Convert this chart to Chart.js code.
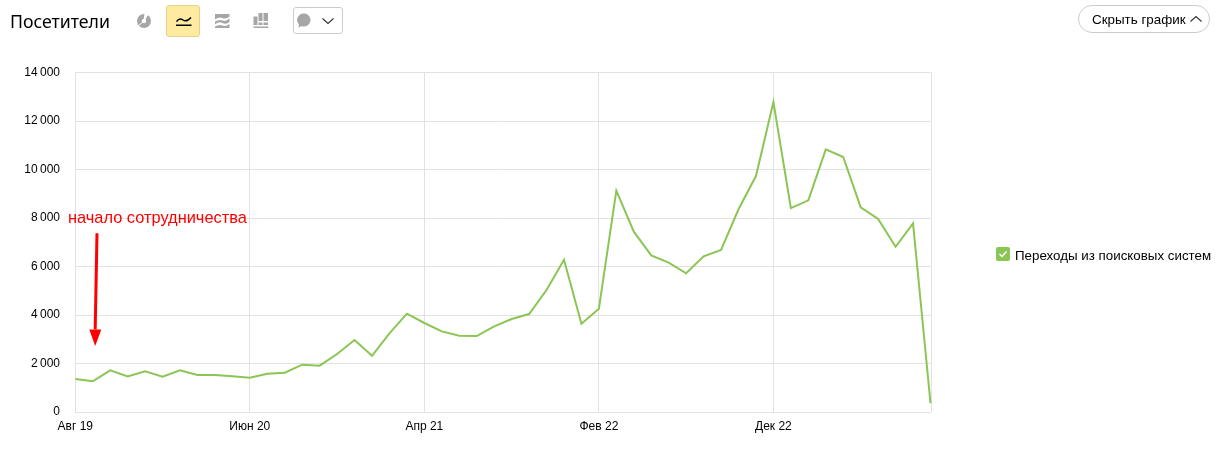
<!DOCTYPE html>
<html lang="ru"><head><meta charset="utf-8">
<script src="https://cdn.jsdelivr.net/npm/chart.js@4/dist/chart.umd.min.js"></script>
<style>
html,body{margin:0;padding:0;background:#fff;width:1222px;height:457px;overflow:hidden}
#wrap{position:relative;width:1222px;height:457px;font-family:"Liberation Sans",Arial,sans-serif;color:#000}
canvas{position:absolute;left:0;top:0}
.abs{position:absolute}
#title{left:10px;top:8px;font:17.7px/26px "Noto Sans",sans-serif;color:#000;white-space:nowrap}
#active{left:166px;top:5px;width:32px;height:30px;background:#ffeba0;border:1px solid #e6d28c;border-radius:3px}
#drop{left:293px;top:7px;width:48px;height:25px;border:1px solid #ccc;border-radius:3px}
#hide{left:1078px;top:5px;width:130px;height:26px;border:1px solid #ccc;border-radius:14px;font-size:13.4px;line-height:27px;white-space:nowrap}
#hide span{position:absolute;left:13px;top:0}
#check{left:996px;top:247px;width:14px;height:14px;background:#8bc554;border-radius:2px}
#legend{left:1015px;top:248px;font-size:13.35px;line-height:15px;white-space:nowrap}
</style></head><body>
<div id="wrap">
<canvas id="c" width="1222" height="457"></canvas>
<div id="title" class="abs">Посетители</div>
<svg class="abs" style="left:137px;top:14px" width="14" height="14" viewBox="0 0 14 14"><circle cx="7" cy="7" r="7" fill="#a6a6a6"/><path d="M7 7L8 0L11 0Z M7 7L1 12" stroke="#fff" stroke-width="1" fill="#fff"/><circle cx="7" cy="7" r="2.200" fill="#fff"/></svg>
<div id="active" class="abs"></div>
<svg class="abs" style="left:175.500px;top:15px" width="16" height="12" viewBox="0 0 16 12"><path d="M0.500 6.500Q3.500 2.500 7 5T15 2.500" fill="none" stroke="#000" stroke-width="1.500"/><rect x="0" y="9.500" width="15.500" height="1.500" fill="#000"/></svg>
<svg class="abs" style="left:215px;top:14px" width="15" height="14" viewBox="0 0 15 14"><path d="M0 0H14.500V2.500Q11 5.500 7.500 4T0 5.500Z M0 7.500Q4 5 7.500 6.500T14.500 4.500V8Q11 11 7.500 9T0 10.500Z M0 12.500Q4 10 7.500 11.500T14.500 10V14H0Z" fill="#a6a6a6"/></svg>
<svg class="abs" style="left:253px;top:13px" width="16" height="15" viewBox="0 0 16 15"><path d="M0.500 3.500H4.500V12H0.500Z M5.500 0H9.500V8H5.500Z M5.500 9.500H9.500V12H5.500Z M10.500 0H15V8H10.500Z M10.500 9.500H15V12H10.500Z M0.500 13.500H15.500V15H0.500Z" fill="#a6a6a6"/></svg>
<div id="drop" class="abs"></div>
<svg class="abs" style="left:297px;top:13px" width="14" height="15" viewBox="0 0 14 15"><path d="M7 0.500A6.500 6.500 0 1 1 4.500 13L1.500 14.800L2 11.500A6.500 6.500 0 0 1 7 0.500Z" fill="#a6a6a6"/></svg>
<svg class="abs" style="left:321.500px;top:17px" width="12" height="8" viewBox="0 0 12 8"><path d="M0.500 1.500L6 6.500L11.500 1.500" fill="none" stroke="#333" stroke-width="1.100"/></svg>
<div id="hide" class="abs"><span>Скрыть график</span></div>
<svg class="abs" style="left:1190px;top:15px" width="12" height="8" viewBox="0 0 12 8"><path d="M0.500 6.500L6 1.500L11.500 6.500" fill="none" stroke="#333" stroke-width="1.100"/></svg>
<div id="check" class="abs"></div>
<svg class="abs" style="left:996px;top:247px" width="14" height="14" viewBox="0 0 14 14"><path d="M3.500 7L6 9.500L10.500 4.500" fill="none" stroke="#fff" stroke-width="1.500"/></svg>
<div id="legend" class="abs">Переходы из поисковых систем</div>
</div>
<script>
const categories = ["Авг 19","Сен 19","Окт 19","Ноя 19","Дек 19","Янв 20","Фев 20","Мар 20","Апр 20","Май 20",
"Июн 20","Июл 20","Авг 20","Сен 20","Окт 20","Ноя 20","Дек 20","Янв 21","Фев 21","Мар 21",
"Апр 21","Май 21","Июн 21","Июл 21","Авг 21","Сен 21","Окт 21","Ноя 21","Дек 21","Янв 22",
"Фев 22","Мар 22","Апр 22","Май 22","Июн 22","Июл 22","Авг 22","Сен 22","Окт 22","Ноя 22",
"Дек 22","Янв 23","Фев 23","Мар 23","Апр 23","Май 23","Июн 23","Июл 23","Авг 23","Сен 23"];
const visits = [1360,1265,1720,1470,1675,1455,1720,1525,1525,1470,
1415,1580,1620,1950,1910,2390,2970,2320,3245,4055,
3670,3325,3145,3130,3530,3835,4040,5030,6280,3640,
4260,9125,7435,6460,6160,5720,6420,6680,8360,9730,
12780,8410,8730,10830,10515,8440,7960,6815,7780,360];
const shownLabels = ["Авг 19","Июн 20","Апр 21","Фев 22","Дек 22"];
const seriesName = "Переходы из поисковых систем";
const noteText = "начало сотрудничества";
const GRID = "#e2e2e2";

const annotation = {
  id:"annotation",
  beforeDatasetsDraw(ch){
    const {ctx,chartArea:a} = ch;
    ctx.save(); ctx.strokeStyle = GRID; ctx.lineWidth = 1;
    ctx.beginPath(); ctx.moveTo(931.5,a.top-0.5); ctx.lineTo(931.5,a.bottom+0.5); ctx.stroke();
    ctx.restore();
  },
  afterDatasetsDraw(ch){
    const {ctx,scales:{x,y}} = ch;
    const ax = x.getPixelForValue(1.146), top = y.getPixelForValue(7375), tip = y.getPixelForValue(2719), neck = y.getPixelForValue(3407);
    ctx.save();
    ctx.fillStyle = "#ff0000"; ctx.strokeStyle = "#ff0000";
    ctx.lineWidth = 3;
    ctx.beginPath(); ctx.moveTo(ax+1.7,top); ctx.lineTo(ax-0.1,neck); ctx.stroke();
    ctx.beginPath(); ctx.moveTo(ax-6,neck); ctx.lineTo(ax+6,neck); ctx.lineTo(ax-0.1,tip); ctx.closePath(); ctx.fill();
    ctx.font = '16.4px "Liberation Sans",sans-serif';
    ctx.textAlign = "left"; ctx.textBaseline = "middle";
    ctx.fillText(noteText, x.getPixelForValue(-0.42), y.getPixelForValue(7990));
    ctx.restore();
  }
};

new Chart(document.getElementById("c"),{
  type:"line",
  data:{labels:categories,datasets:[{label:seriesName,data:visits,borderColor:"#8bc554",borderWidth:2,pointRadius:0,tension:0,fill:false,clip:false}]},
  options:{
    responsive:false,animation:false,
    layout:{padding:{left:0,top:72.5,right:291.5,bottom:0}},
    plugins:{legend:{display:false},tooltip:{enabled:false}},
    scales:{
      x:{type:"category",offset:false,
        afterFit(s){s.height=45},
        border:{display:false},
        grid:{drawTicks:false,color:c=>(shownLabels.includes(categories[c.index]))?GRID:"rgba(0,0,0,0)"},
        ticks:{autoSkip:false,maxRotation:0,minRotation:0,padding:7,color:"#000",font:{family:'"Liberation Sans",sans-serif',size:12},
          callback(v){const l=this.getLabelForValue(v);return shownLabels.includes(l)?l:""}}
      },
      y:{min:0,max:14000,
        afterFit(s){s.width=75.3},
        border:{color:GRID},
        grid:{drawTicks:false,color:GRID},
        ticks:{stepSize:2000,padding:15.3,color:"#000",font:{family:'"Liberation Sans",sans-serif',size:12},
          callback(v){return String(v).replace(/\B(?=(\d{3})+$)/g,"\u2009")}}
      }
    }
  },
  plugins:[annotation]
});
</script>
</body></html>
